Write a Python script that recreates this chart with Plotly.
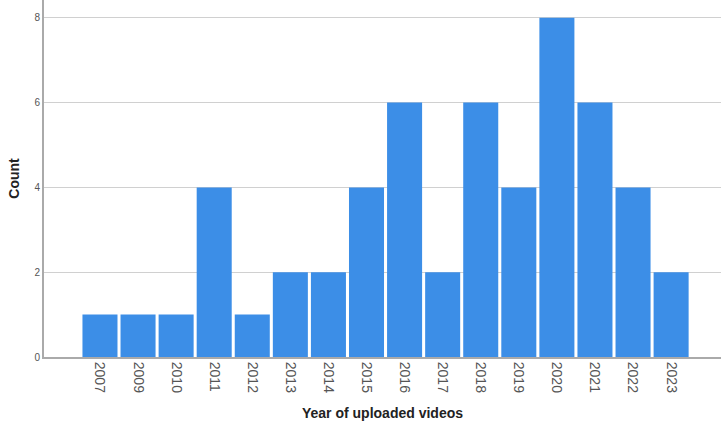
import plotly.graph_objects as go

years = ["2007", "2009", "2010", "2011", "2012", "2013", "2014", "2015",
         "2016", "2017", "2018", "2019", "2020", "2021", "2022", "2023"]
counts = [1, 1, 1, 4, 1, 2, 2, 4, 6, 2, 6, 4, 8, 6, 4, 2]
y_ticks = [0, 2, 4, 6, 8]

fig = go.Figure(go.Bar(
    x=years, y=counts,
    marker=dict(color="#3c8ee7", line=dict(width=0)),
))
fig.update_layout(
    width=721, height=426,
    margin=dict(l=44, r=0, t=0, b=69),
    plot_bgcolor="white", paper_bgcolor="white",
    bargap=0.08,
    showlegend=False,
    font=dict(family="Liberation Sans, Arial, sans-serif", color="#555"),
)
fig.update_xaxes(
    type="category", range=[-1.47, 16.31],
    tickangle=90, tickfont=dict(size=14, color="#555"),
    showline=True, linecolor="#aaa", linewidth=2,
    showgrid=False, ticks="",
    title=dict(text="<b>Year of uploaded videos</b>", font=dict(size=14, color="#222"), standoff=16),
)
fig.update_yaxes(
    range=[0, 8.42], tickvals=y_ticks,
    tickfont=dict(size=10, color="#555"),
    showline=True, linecolor="#aaa", linewidth=2,
    showgrid=True, gridcolor="#d0d0d0", gridwidth=1,
    zeroline=False, ticks="",
    title=dict(text="<b>Count</b>", font=dict(size=14, color="#222"), standoff=12),
)
fig.write_html("out.html", config={"displayModeBar": False},
               post_script="document.body.style.margin='0';")
